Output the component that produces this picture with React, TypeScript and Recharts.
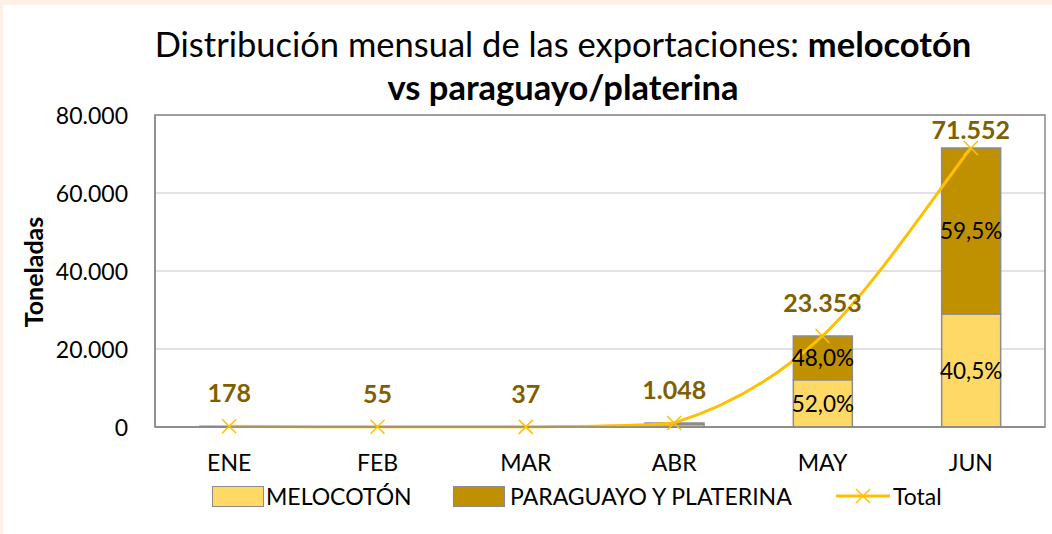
import React from "react";
import { ComposedChart, Bar, Line, XAxis, YAxis, CartesianGrid, LabelList, ReferenceArea } from "recharts";

const months = ["ENE", "FEB", "MAR", "ABR", "MAY", "JUN"];
const melocoton = [92, 30, 20, 610, 12144, 28979];
const paraguayo = [86, 25, 17, 438, 11209, 42573];
const totals = [178, 55, 37, 1048, 23353, 71552];
const yTicks = [0, 20000, 40000, 60000, 80000];

const rows = months.map((m, i) => ({
    month: m,
    melocoton: melocoton[i],
    paraguayo: paraguayo[i],
    total: totals[i],
}));

const FONT = "Lato, 'Open Sans', sans-serif";
const fmt = (v: number) => v.toLocaleString("de-DE");
const pct = (part: number, whole: number) => (part / whole * 100).toFixed(1).replace(".", ",") + "%";

const plotTop = 110;

// smooth line like the spreadsheet's: Catmull-Rom through the points,
// control points kept inside each segment's vertical span so it never dips
const smoothCurve = (ctx: any) => {
    let pts: [number, number][] = [];
    const clamp = (v: number, a: number, b: number) => Math.min(Math.max(v, Math.min(a, b)), Math.max(a, b));
    return {
        areaStart() {},
        areaEnd() {},
        lineStart() { pts = []; },
        point(x: number, y: number) { pts.push([+x, +y]); },
        lineEnd() {
            if (!pts.length) return;
            ctx.moveTo(pts[0][0], pts[0][1]);
            for (let i = 0; i < pts.length - 1; i++) {
                const p0 = pts[Math.max(i - 1, 0)];
                const p1 = pts[i];
                const p2 = pts[i + 1];
                const p3 = pts[Math.min(i + 2, pts.length - 1)];
                ctx.bezierCurveTo(
                    p1[0] + (p2[0] - p0[0]) / 6, clamp(p1[1] + (p2[1] - p0[1]) / 6, p1[1], p2[1]),
                    p2[0] - (p3[0] - p1[0]) / 6, clamp(p2[1] - (p3[1] - p1[1]) / 6, p1[1], p2[1]),
                    p2[0], p2[1]
                );
            }
        },
    };
};

const XTick = (props: any) => {
    const { x, y, payload } = props;
    return <text x={x} y={y + 35} textAnchor="middle" dominantBaseline="central" fontFamily={FONT} fontSize={23} fill="#000">{payload.value}</text>;
};

const YTick = (props: any) => {
    const { x, y, payload } = props;
    return <text x={x - 27} y={y} textAnchor="end" dominantBaseline="central" fontFamily={FONT} fontSize={23} fill="#000">{fmt(payload.value)}</text>;
};

const pctLabel = (key: "melocoton" | "paraguayo") => (props: any) => {
    const { x, y, width, height, index } = props;
    const row = rows[index];
    if (!row || row.total < 10000) return null;
    return <text x={x + width / 2} y={y + height / 2} textAnchor="middle" dominantBaseline="central" fontFamily={FONT} fontSize={22.5} fill="#000">{pct(row[key], row.total)}</text>;
};

const XDot = (props: any) => {
    const { cx, cy } = props;
    const s = 7;
    return (
        <g>
            <line x1={cx - s} y1={cy - s} x2={cx + s} y2={cy + s} stroke="#FFC000" strokeWidth={1.5} />
            <line x1={cx - s} y1={cy + s} x2={cx + s} y2={cy - s} stroke="#FFC000" strokeWidth={1.5} />
        </g>
    );
};

const TotalLabel = (props: any) => {
    const { x, y, value } = props;
    const ly = Math.max(y - 34, plotTop + 14);
    return <text x={x} y={ly} textAnchor="middle" dominantBaseline="central" fontFamily={FONT} fontSize={25} fontWeight="bold" fill="#7F6000">{fmt(value)}</text>;
};

const YLabel = () => (
    <text x={30} y={267} transform="rotate(-90 30 267)" textAnchor="middle" dominantBaseline="central" fontFamily={FONT} fontSize={25} fontWeight="bold" fill="#000">Toneladas</text>
);

const legendText: React.CSSProperties = { position: "absolute", top: 0, fontFamily: FONT, fontSize: 23, lineHeight: "24px", whiteSpace: "nowrap" };

export default function App() {
    return (
        <div style={{ position: "absolute", left: 0, top: 0, width: 1052, height: 534, background: "#FDF1E6" }}>
            <div style={{ position: "absolute", left: 3, top: 5, width: 1049, height: 529, background: "#fff" }}>
                <div style={{ position: "absolute", left: 0, top: 17, width: 1120, textAlign: "center", fontFamily: FONT, fontSize: 34.5, lineHeight: "43px", color: "#000" }}>
                    Distribución mensual de las exportaciones: <b>melocotón</b>
                    <br />
                    <b>vs paraguayo/platerina</b>
                </div>
                <ComposedChart width={1049} height={529} data={rows} margin={{ top: plotTop, right: 7, left: 0, bottom: 0 }}>
                    <CartesianGrid horizontal vertical={false} stroke="#D9D9D9" strokeWidth={1.5} />
                    <XAxis dataKey="month" height={107} tick={<XTick />} tickSize={0} tickMargin={0} tickLine={false} axisLine={{ stroke: "#898989", strokeWidth: 1.5 }} />
                    <YAxis width={152} domain={[0, 80000]} ticks={yTicks} tick={<YTick />} tickSize={0} tickMargin={0} tickLine={false} axisLine={{ stroke: "#898989", strokeWidth: 1.5 }} label={<YLabel />} />
                    <ReferenceArea y1={0} y2={80000} fill="none" stroke="#898989" strokeWidth={1.5} ifOverflow="visible" />
                    <Bar dataKey="melocoton" name="MELOCOTÓN" stackId="a" fill="#FFD966" stroke="#8C8C8C" strokeWidth={1.5} barSize={59} isAnimationActive={false}>
                        <LabelList dataKey="melocoton" content={pctLabel("melocoton")} />
                    </Bar>
                    <Bar dataKey="paraguayo" name="PARAGUAYO Y PLATERINA" stackId="a" fill="#BF9000" stroke="#8C8C8C" strokeWidth={1.5} barSize={59} isAnimationActive={false}>
                        <LabelList dataKey="paraguayo" content={pctLabel("paraguayo")} />
                    </Bar>
                    <Line dataKey="total" name="Total" type={smoothCurve as any} stroke="#FFC000" strokeWidth={3} dot={<XDot />} activeDot={false} label={<TotalLabel />} isAnimationActive={false} />
                </ComposedChart>
                <div style={{ position: "absolute", left: 0, top: 479, width: 1049, height: 24 }}>
                    <div style={{ position: "absolute", left: 209, top: 2, width: 50, height: 19, background: "#FFD966", border: "1.5px solid #8C8C8C" }} />
                    <div style={{ ...legendText, left: 263 }}>MELOCOTÓN</div>
                    <div style={{ position: "absolute", left: 450, top: 2, width: 50, height: 19, background: "#BF9000", border: "1.5px solid #8C8C8C" }} />
                    <div style={{ ...legendText, left: 507 }}>PARAGUAYO Y PLATERINA</div>
                    <svg style={{ position: "absolute", left: 833, top: 0 }} width={56} height={24}>
                        <line x1={0} y1={12} x2={54} y2={12} stroke="#FFC000" strokeWidth={3} />
                        <line x1={20} y1={5} x2={34} y2={19} stroke="#FFC000" strokeWidth={1.5} />
                        <line x1={20} y1={19} x2={34} y2={5} stroke="#FFC000" strokeWidth={1.5} />
                    </svg>
                    <div style={{ ...legendText, left: 890 }}>Total</div>
                </div>
            </div>
        </div>
    );
}
